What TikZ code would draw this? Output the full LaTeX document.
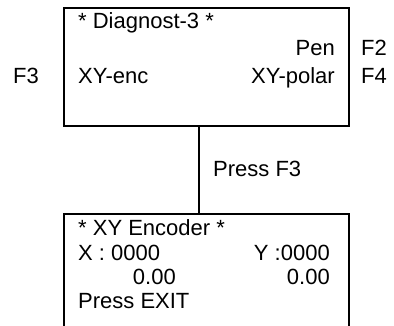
\documentclass[tikz,border=0pt]{standalone}
\usepackage{fontspec}
\setmainfont{Liberation Sans}
\begin{document}
\begin{tikzpicture}[x=1pt,y=-1pt,
  panel/.style={draw,line width=1.8pt,inner sep=0pt,anchor=north west},
  txt/.style={inner sep=0pt,font=\fontsize{22}{26}\selectfont},
  lft/.style={txt,anchor=base west},
  rgt/.style={txt,anchor=base east},
  link/.style={line width=1.8pt}]
\clip (0,0) rectangle (394,325);
% menu screens
\node[panel,minimum width=285pt,minimum height=118pt] (diag) at (63,7) {};
\node[panel,minimum width=285pt,minimum height=140pt] (enc) at (63,213) {};
% Diagnost-3 screen
\node[lft] (title1) at (78,28) {* Diagnost-3 *};
\node[rgt] (pen) at (335,55) {Pen};
\node[lft] (xyenc) at (78,83) {XY-enc};
\node[rgt] (xypol) at (335,83) {XY-polar};
% function keys
\node[lft] (f2) at (361,55) {F2};
\node[lft] (f4) at (361,83) {F4};
\node[rgt] (f3) at (39,83) {F3};
% transition
\coordinate (cx) at (199,0);
\draw[link] (diag.south -| cx) -- (enc.north -| cx);
\node[lft] (press) at (213,176) {Press F3};
% XY Encoder screen
\node[lft] (title2) at (78,235) {* XY Encoder *};
\node[lft] (xval) at (78,260) {X : 0000};
\node[rgt] (yval) at (330,260) {Y :0000};
\node[rgt] (xmm) at (176,284) {0.00};
\node[rgt] (ymm) at (330,284) {0.00};
\node[lft] (exit) at (78,308) {Press EXIT};
\end{tikzpicture}
\end{document}
